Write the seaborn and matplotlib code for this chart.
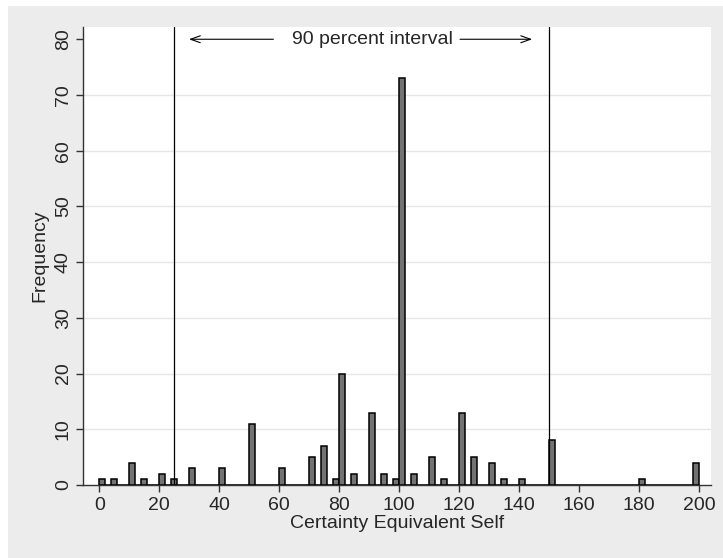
import numpy as np
import matplotlib
matplotlib.use("Agg")
import matplotlib.pyplot as plt
import seaborn as sns
from matplotlib.patches import Rectangle

# Data: bin centres (bin width 2) and frequencies
bin_centers = [1, 5, 11, 15, 21, 25, 31, 41, 51, 61, 71, 75, 79, 81, 85, 91, 95, 99,
               101, 105, 111, 115, 121, 125, 131, 135, 141, 151, 181, 199]
frequencies = [1, 1, 4, 1, 2, 1, 3, 3, 11, 3, 5, 7, 1, 20, 2, 13, 2, 1,
               73, 2, 5, 1, 13, 5, 4, 1, 1, 8, 1, 4]
interval_bounds = [25, 150]
x_ticks = [0, 20, 40, 60, 80, 100, 120, 140, 160, 180, 200]
y_ticks = [0, 10, 20, 30, 40, 50, 60, 70, 80]

sns.set_style("white")
plt.rcParams['font.family'] = ['Liberation Sans', 'DejaVu Sans']

fig = plt.figure(figsize=(7.23, 5.58), dpi=100)
fig.patch.set_facecolor("white")
bg = Rectangle((8 / 723, 0), 1 - 8 / 723, (558 - 6) / 558,
               transform=fig.transFigure, facecolor="#ECECEC",
               edgecolor="none", zorder=-10)
fig.add_artist(bg)

ax = fig.add_axes([83 / 723, (558 - 485) / 558, (711 - 83) / 723, (485 - 27) / 558])
ax.set_zorder(1)
ax.set_facecolor("white")

sns.histplot(x=bin_centers, weights=frequencies, binwidth=2, binrange=(0, 200),
             color="#737373", edgecolor="black", linewidth=1.1, alpha=1, ax=ax,
             zorder=3)

ax.set_xlim(-5.4, 204)
ax.set_ylim(0, 82.2)

for g in y_ticks[1:-1]:
    ax.axhline(g, color="#E6E6E6", lw=1.0, zorder=1)

for b in interval_bounds:
    ax.axvline(b, color="black", lw=0.9, zorder=4)

ax.annotate("", xy=(29.0, 80), xytext=(59.0, 80),
            arrowprops=dict(arrowstyle="->,head_length=0.7,head_width=0.25", lw=0.8, color="black"))
ax.annotate("", xy=(145.3, 80), xytext=(119.4, 80),
            arrowprops=dict(arrowstyle="->,head_length=0.7,head_width=0.25", lw=0.8, color="black"))
ax.text(91, 80, "90 percent interval", ha="center", va="center", fontsize=14)

ax.set_xticks(x_ticks)
ax.set_yticks(y_ticks)
ax.set_yticklabels([str(v) for v in y_ticks], rotation=90, va="center")
ax.tick_params(axis="both", which="both", length=5, width=1, color="#333333",
               labelsize=14, direction="out")
ax.tick_params(axis="x", pad=4)
ax.tick_params(axis="y", pad=3)
ax.xaxis.set_ticks_position("bottom")
ax.yaxis.set_ticks_position("left")

for s in ["top", "right"]:
    ax.spines[s].set_visible(False)
for s in ["left", "bottom"]:
    ax.spines[s].set_color("#333333")
    ax.spines[s].set_linewidth(1.0)

ax.set_xlabel("Certainty Equivalent Self", fontsize=14, labelpad=0)
ax.set_ylabel("Frequency", fontsize=14, labelpad=5)

fig.savefig("out.png", dpi=100, facecolor=fig.get_facecolor())
